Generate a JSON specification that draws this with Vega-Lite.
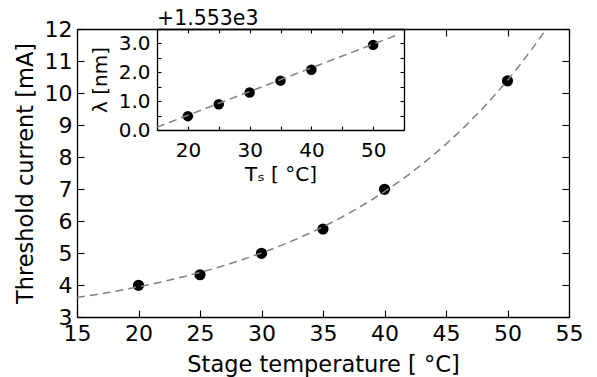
{
  "$schema": "https://vega.github.io/schema/vega-lite/v6.json",
  "width": 492,
  "height": 288,
  "autosize": {"type": "none"},
  "padding": {"left": 77, "top": 29, "right": 28, "bottom": 60},
  "background": "white",
  "config": {
    "view": {"stroke": null},
    "axis": {
      "domainColor": "black", "tickColor": "black", "labelColor": "black", "titleColor": "black",
      "labelFont": "DejaVu Sans", "titleFont": "DejaVu Sans", "titleFontWeight": "normal",
      "grid": false, "domainWidth": 1.3, "tickWidth": 1.1, "labelFlush": false, "labelOverlap": false
    }
  },
  "title": {"text": "+1.553e3", "anchor": "start", "frame": "group", "dx": 80, "offset": -11, "fontSize": 20.5, "font": "DejaVu Sans", "fontWeight": "normal", "color": "black"},
  "resolve": {"scale": {"x": "independent", "y": "independent"}, "axis": {"x": "independent", "y": "independent"}},
  "layer": [
    {
      "data": {"values": [
        {"T": 20, "I": 3.99}, {"T": 25, "I": 4.32}, {"T": 30, "I": 4.99},
        {"T": 35, "I": 5.75}, {"T": 40, "I": 6.99}, {"T": 50, "I": 10.38}
      ]},
      "mark": {"type": "circle", "size": 125, "color": "black", "opacity": 1},
      "encoding": {
        "x": {"field": "T", "type": "quantitative",
          "scale": {"domain": [15, 55], "nice": false, "zero": false},
          "axis": {"orient": "bottom", "values": [15, 20, 25, 30, 35, 40, 45, 50, 55], "tickSize": -7, "labelPadding": 13, "labelFontSize": 22,
            "title": "Stage temperature [ °C]", "titleFontSize": 22.5, "titlePadding": 9}},
        "y": {"field": "I", "type": "quantitative",
          "scale": {"domain": [3, 12], "nice": false, "zero": false},
          "axis": {"orient": "left", "values": [3, 4, 5, 6, 7, 8, 9, 10, 11, 12], "tickSize": -7, "labelPadding": 12, "labelFontSize": 22,
            "title": "Threshold current [mA]", "titleFontSize": 22.5, "titlePadding": 7}}
      }
    },
    {
      "data": {"values": [
        {"T": 15, "I": 3.607}, {"T": 16, "I": 3.666}, {"T": 17, "I": 3.729}, {"T": 18, "I": 3.796},
        {"T": 19, "I": 3.867}, {"T": 20, "I": 3.942}, {"T": 21, "I": 4.021}, {"T": 22, "I": 4.106},
        {"T": 23, "I": 4.196}, {"T": 24, "I": 4.291}, {"T": 25, "I": 4.393}, {"T": 26, "I": 4.5},
        {"T": 27, "I": 4.614}, {"T": 28, "I": 4.735}, {"T": 29, "I": 4.864}, {"T": 30, "I": 5.0},
        {"T": 31, "I": 5.145}, {"T": 32, "I": 5.298}, {"T": 33, "I": 5.461}, {"T": 34, "I": 5.634},
        {"T": 35, "I": 5.818}, {"T": 36, "I": 6.012}, {"T": 37, "I": 6.219}, {"T": 38, "I": 6.439},
        {"T": 39, "I": 6.672}, {"T": 40, "I": 6.919}, {"T": 41, "I": 7.181}, {"T": 42, "I": 7.459},
        {"T": 43, "I": 7.755}, {"T": 44, "I": 8.069}, {"T": 45, "I": 8.401}, {"T": 46, "I": 8.755},
        {"T": 47, "I": 9.13}, {"T": 48, "I": 9.527}, {"T": 49, "I": 9.95}, {"T": 50, "I": 10.398},
        {"T": 51, "I": 10.873}, {"T": 52, "I": 11.38}, {"T": 53, "I": 11.914}, {"T": 53.5, "I": 12.19}
      ]},
      "mark": {"type": "line", "color": "#808080", "strokeDash": [8, 5], "strokeWidth": 1.5, "clip": true},
      "encoding": {
        "x": {"field": "T", "type": "quantitative",
          "scale": {"domain": [15, 55], "nice": false, "zero": false},
          "axis": {"orient": "top", "values": [15, 45, 50, 55], "tickSize": -7, "labels": false, "title": null}},
        "y": {"field": "I", "type": "quantitative",
          "scale": {"domain": [3, 12], "nice": false, "zero": false},
          "axis": {"orient": "right", "values": [3, 4, 5, 6, 7, 8, 9, 10, 11, 12], "tickSize": -7, "labels": false, "title": null}}
      }
    },
    {
      "data": {"values": [
        {"T": 20, "L": 0.48}, {"T": 25, "L": 0.89}, {"T": 30, "L": 1.3},
        {"T": 35, "L": 1.71}, {"T": 40, "L": 2.09}, {"T": 50, "L": 2.95}
      ]},
      "mark": {"type": "circle", "size": 110, "color": "black", "opacity": 1},
      "encoding": {
        "x": {"field": "T", "type": "quantitative",
          "scale": {"domain": [15, 55], "nice": false, "zero": false, "range": [80, 327]},
          "axis": {"orient": "bottom", "offset": -187, "values": [15, 20, 25, 30, 35, 40, 45, 50, 55], "tickSize": -4,
            "labelExpr": "datum.value % 10 == 0 ? datum.label : ''", "labelPadding": 14, "labelFontSize": 20,
            "title": "Tₛ [ °C]", "titleFontSize": 20, "titlePadding": 4}},
        "y": {"field": "L", "type": "quantitative",
          "scale": {"domain": [0, 3.5], "nice": false, "zero": false, "range": [101, 0]},
          "axis": {"orient": "left", "offset": -80, "values": [0, 0.5, 1, 1.5, 2, 2.5, 3, 3.5], "tickSize": -4,
            "labelExpr": "datum.value % 1 == 0 ? format(datum.value, '.1f') : ''", "labelPadding": 11, "labelFontSize": 20,
            "title": "λ [nm]", "titleFontSize": 20, "titlePadding": 8}}
      }
    },
    {
      "data": {"values": [{"T": 15, "L": 0.1}, {"T": 53.6, "L": 3.27}]},
      "mark": {"type": "line", "color": "#808080", "strokeDash": [8, 5], "strokeWidth": 1.5},
      "encoding": {
        "x": {"field": "T", "type": "quantitative",
          "scale": {"domain": [15, 55], "nice": false, "zero": false, "range": [80, 327]},
          "axis": {"orient": "top", "values": [15, 20, 25, 30, 35, 40, 45, 50, 55], "tickSize": -4, "labels": false, "title": null}},
        "y": {"field": "L", "type": "quantitative",
          "scale": {"domain": [0, 3.5], "nice": false, "zero": false, "range": [101, 0]},
          "axis": {"orient": "right", "offset": -165, "values": [0, 0.5, 1, 1.5, 2, 2.5, 3, 3.5], "tickSize": -4, "labels": false, "title": null}}
      }
    }
  ]
}
